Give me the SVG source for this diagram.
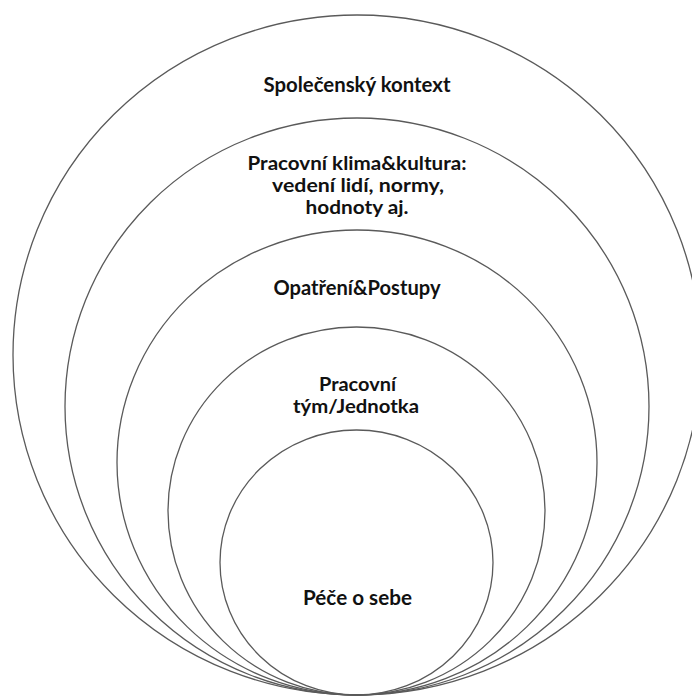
<svg xmlns="http://www.w3.org/2000/svg" width="692" height="698" viewBox="0 0 692 698">
<style>
.ring{fill:none;stroke:#5a5a5a;stroke-width:1.3}
.lbl{font-family:Lato,"Open Sans","Liberation Sans",sans-serif;font-weight:700;font-size:18px;fill:#111;text-anchor:middle}
.big{font-size:20px}
</style>
<rect width="692" height="698" fill="#fff"/>
<g id="spolecensky-kontext">
<ellipse class="ring" cx="357" cy="355" rx="344" ry="340"/>
<text class="lbl big" x="357" y="92" textLength="187" lengthAdjust="spacingAndGlyphs">Společenský kontext</text>
</g>
<g id="pracovni-klima">
<ellipse class="ring" cx="357" cy="406.5" rx="292" ry="288.5"/>
<text class="lbl" x="357" y="169.5" textLength="219" lengthAdjust="spacingAndGlyphs">Pracovní klima&amp;kultura:</text>
<text class="lbl" x="358" y="191.5" textLength="172" lengthAdjust="spacingAndGlyphs">vedení lidí, normy,</text>
<text class="lbl" x="357" y="213.5" textLength="103" lengthAdjust="spacingAndGlyphs">hodnoty aj.</text>
</g>
<g id="opatreni-postupy">
<ellipse class="ring" cx="357" cy="462.5" rx="240" ry="232.5"/>
<text class="lbl big" x="357" y="295" textLength="167" lengthAdjust="spacingAndGlyphs">Opatření&amp;Postupy</text>
</g>
<g id="pracovni-tym">
<ellipse class="ring" cx="356.5" cy="511" rx="188.5" ry="184"/>
<text class="lbl" x="357.5" y="390.5" textLength="77" lengthAdjust="spacingAndGlyphs">Pracovní</text>
<text class="lbl" x="356" y="412.5" textLength="126" lengthAdjust="spacingAndGlyphs">tým/Jednotka</text>
</g>
<g id="pece-o-sebe">
<ellipse class="ring" cx="356.5" cy="562.5" rx="136.5" ry="132.5"/>
<text class="lbl big" x="357.5" y="605" textLength="109" lengthAdjust="spacingAndGlyphs">Péče o sebe</text>
</g>
</svg>
